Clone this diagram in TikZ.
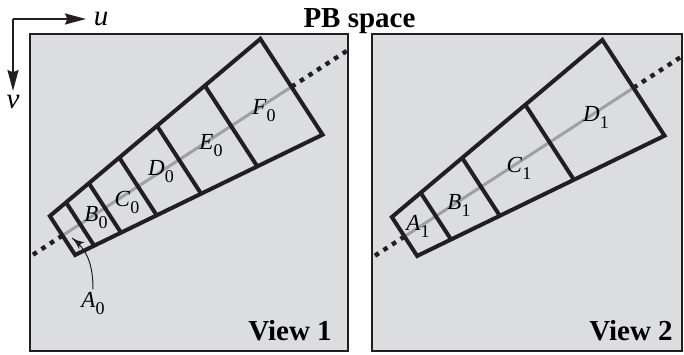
\documentclass[tikz,border=0pt]{standalone}
\usepackage{fontspec}
\setmainfont{Liberation Serif}
\usetikzlibrary{arrows}
\usetikzlibrary{arrows.meta}
\usetikzlibrary{decorations.markings}
\usetikzlibrary{positioning}
\tikzset{axisarrow/.style = {-{Stealth[length=10.5pt, width=5.5pt, inset=1.2pt]}}}
\tikzset{pointer/.style = {decoration={markings,
                                   mark=at position 1 with {\arrow[scale=1.5]{latex'}}},
                       postaction={decorate}}}
\definecolor{panelgray}{RGB}{220,221,223}
\definecolor{raygray}{RGB}{160,160,160}
\definecolor{inkblack}{RGB}{35,31,32}
\newcommand{\binlab}[2]{\textit{#1}\raisebox{-3.5pt}{\fontsize{9}{9}\selectfont #2}}

\begin{document}
\begin{tikzpicture}[x=0.5pt, y=-0.5pt,
    panel/.style = {fill=panelgray, draw=inkblack, line width=1pt},
    cellline/.style = {draw=inkblack, line width=2pt},
    rayline/.style = {draw=raygray, line width=1.5pt},
    rayext/.style = {draw=inkblack, line width=2.2pt, dash pattern=on 2.3pt off 2.8pt},
    binfont/.style = {font=\fontsize{11.5}{12}\selectfont, inner sep=1pt},
    bigfont/.style = {font=\fontsize{14.5}{15}\selectfont\bfseries, inner sep=0pt},
  ]
  \useasboundingbox (0,0) rectangle (684,354);

  % axes
  \coordinate (origin) at (13,19);
  \coordinate (uend) at (86,19);
  \coordinate (vend) at (13,91);
  \draw [axisarrow, line width=1pt, inkblack] (origin) -- (uend);
  \draw [axisarrow, line width=1pt, inkblack] (origin) -- (vend);
  \node [font=\fontsize{14.5}{15}\selectfont\itshape, anchor=base] (ulab) at (101,25) {u};
  \node [font=\fontsize{14.5}{15}\selectfont\itshape, anchor=base] (vlab) at (13,108) {v};
  \node [bigfont, anchor=base] (title) at (359.5,27) {PB space};

  % view 1
  \draw [panel] (30,34) rectangle (348,351);
  \begin{scope}
    \clip (30,34) rectangle (348,351);
    \begin{scope}[shift={(62.5,235.5)}, rotate=33]
      \draw [rayext] (0,0) -- (-80,0);
      \draw [rayext] (273,0) -- (380,0);
      \draw [rayline] (0,0) -- (273,0);
      \draw [cellline] (0,-23.2) -- (273,-57.1) -- (273,57.1) -- (0,23.2) -- cycle;
      \foreach \s in {21,50.6,90,139,201}
        \draw [cellline] (\s,{-23.2-0.1244*\s}) -- (\s,{23.2+0.1244*\s});
    \end{scope}
  \end{scope}
  \node [binfont] (a0) at (93,303) {\binlab{A}{0}};
  \node [binfont] (b0) at (96,218) {\binlab{B}{0}};
  \node [binfont] (c0) at (127,202) {\binlab{C}{0}};
  \node [binfont] (d0) at (161,172) {\binlab{D}{0}};
  \node [binfont] (e0) at (211,146) {\binlab{E}{0}};
  \node [binfont] (f0) at (264,111) {\binlab{F}{0}};
  \coordinate (a0tip) at (72,238);
  \draw [pointer, line width=0.5pt, inkblack] (a0.north) .. controls (93,262) and (86,249) .. (a0tip);
  \node [bigfont, anchor=base] (view1) at (290,340) {View 1};

  % view 2
  \draw [panel] (372,34) rectangle (682,351);
  \begin{scope}
    \clip (372,34) rectangle (682,351);
    \begin{scope}[shift={(404.5,236.5)}, rotate=33]
      \draw [rayext] (0,0) -- (-80,0);
      \draw [rayext] (273,0) -- (380,0);
      \draw [rayline] (0,0) -- (273,0);
      \draw [cellline] (0,-23.2) -- (273,-57.1) -- (273,57.1) -- (0,23.2) -- cycle;
      \foreach \s in {37.4,91.2,173}
        \draw [cellline] (\s,{-23.2-0.1244*\s}) -- (\s,{23.2+0.1244*\s});
    \end{scope}
  \end{scope}
  \node [binfont] (a1) at (418,226) {\binlab{A}{1}};
  \node [binfont] (b1) at (459,205) {\binlab{B}{1}};
  \node [binfont] (c1) at (519,168) {\binlab{C}{1}};
  \node [binfont] (d1) at (596,117) {\binlab{D}{1}};
  \node [bigfont, anchor=base] (view2) at (631,340) {View 2};
\end{tikzpicture}
\end{document}
